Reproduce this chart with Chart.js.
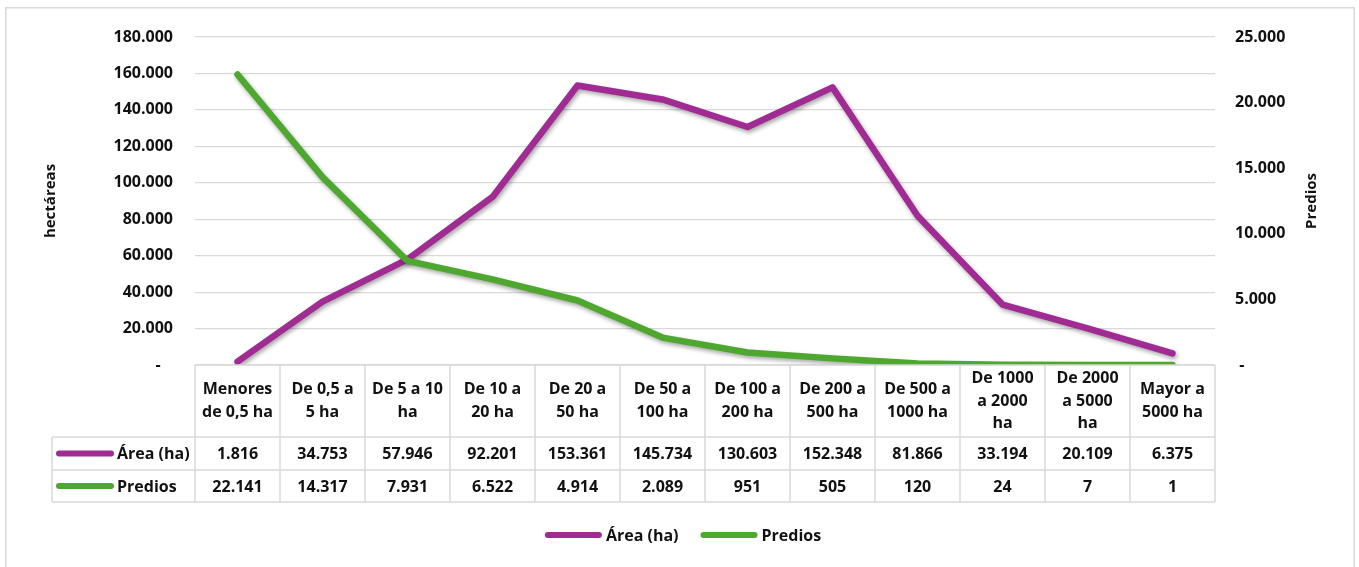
<!DOCTYPE html>
<html lang="es">
<head>
<meta charset="utf-8">
<title>Área y predios por rango de tamaño</title>
<script src="https://cdn.jsdelivr.net/npm/chart.js@4/dist/chart.umd.min.js"></script>
<style>
  html, body { margin: 0; padding: 0; background: #ffffff; }
  #wrap { position: relative; width: 1359px; height: 567px; }
  canvas { display: block; }
</style>
</head>
<body>
<div id="wrap"><canvas id="chart" width="1359" height="567"></canvas></div>
<script>
// Size ranges (each entry is the wrapped label, one string per line)
const categories = [
  ['Menores', 'de 0,5 ha'],
  ['De 0,5 a', '5 ha'],
  ['De 5 a 10', 'ha'],
  ['De 10 a', '20 ha'],
  ['De 20 a', '50 ha'],
  ['De 50 a', '100 ha'],
  ['De 100 a', '200 ha'],
  ['De 200 a', '500 ha'],
  ['De 500 a', '1000 ha'],
  ['De 1000', 'a 2000', 'ha'],
  ['De 2000', 'a 5000', 'ha'],
  ['Mayor a', '5000 ha']
];

// Total area in hectares per range
const areaHa = [1816, 34753, 57946, 92201, 153361, 145734, 130603, 152348, 81866, 33194, 20109, 6375];

// Number of properties per range
const predios = [22141, 14317, 7931, 6522, 4914, 2089, 951, 505, 120, 24, 7, 1];

// Axis tick values
const areaTicks = [0, 20000, 40000, 60000, 80000, 100000, 120000, 140000, 160000, 180000];
const prediosTicks = [0, 5000, 10000, 15000, 20000, 25000];

const seriesNames = ['Área (ha)', 'Predios'];
const seriesColors = ['#A02B93', '#4EA72E'];
const axisTitles = ['hectáreas', 'Predios'];

const FONT = '"Open Sans", "Noto Sans", sans-serif';
const TEXT = '#111111';
const GRID = '#d9d9d9';

// Thousands separator with a dot, zero shown as a dash
function fmt(n) {
  return String(n).replace(/\B(?=(\d{3})+(?!\d))/g, '.');
}
function tickFmt(v) {
  return v === 0 ? '-' : fmt(v);
}

// Soft shadow under the lines
const lineShadow = {
  id: 'lineShadow',
  beforeDatasetsDraw(chart) {
    const ctx = chart.ctx;
    ctx.save();
    ctx.shadowColor = 'rgba(0,0,0,0.35)';
    ctx.shadowBlur = 4;
    ctx.shadowOffsetX = 1.5;
    ctx.shadowOffsetY = 2.5;
  },
  afterDatasetsDraw(chart) {
    chart.ctx.restore();
  }
};

// Outer frame, right axis title, data table and legend
const tableAndLegend = {
  id: 'tableAndLegend',
  beforeDraw(chart) {
    const ctx = chart.ctx;
    ctx.save();
    ctx.strokeStyle = '#d9d9d9';
    ctx.lineWidth = 1.5;
    ctx.strokeRect(5.75, 7.75, 1348.5, 600);
    ctx.restore();
  },
  afterDraw(chart) {
    const ctx = chart.ctx;
    const xs = chart.scales.x;
    const area = chart.chartArea;
    const n = categories.length;
    const colW = (area.right - area.left) / n;

    const top = area.bottom;
    const rowA = top + 72;
    const rowB = rowA + 33;
    const rowEnd = rowB + 32;
    const leftEdge = 52;

    ctx.save();

    // Right axis title, reading bottom to top
    ctx.save();
    ctx.translate(1312, (area.top + area.bottom) / 2);
    ctx.rotate(-Math.PI / 2);
    ctx.font = 'bold 15px ' + FONT;
    ctx.fillStyle = TEXT;
    ctx.textAlign = 'center';
    ctx.textBaseline = 'middle';
    ctx.fillText(axisTitles[1], 0, 0);
    ctx.restore();

    // Table grid
    ctx.strokeStyle = GRID;
    ctx.lineWidth = 1.5;
    ctx.beginPath();
    ctx.moveTo(area.left, top); ctx.lineTo(area.right, top);
    ctx.moveTo(leftEdge, rowA); ctx.lineTo(area.right, rowA);
    ctx.moveTo(leftEdge, rowB); ctx.lineTo(area.right, rowB);
    ctx.moveTo(leftEdge, rowEnd); ctx.lineTo(area.right, rowEnd);
    ctx.moveTo(leftEdge, rowA); ctx.lineTo(leftEdge, rowEnd);
    for (let i = 0; i <= n; i++) {
      const x = area.left + i * colW;
      ctx.moveTo(x, top); ctx.lineTo(x, rowEnd);
    }
    ctx.stroke();

    // Header cells
    ctx.fillStyle = TEXT;
    ctx.font = 'bold 16px ' + FONT;
    ctx.textAlign = 'center';
    ctx.textBaseline = 'middle';
    const lh = 22.5;
    categories.forEach((lines, i) => {
      const cx = xs.getPixelForValue(i);
      const cy = (top + rowA) / 2;
      const y0 = cy - (lines.length - 1) * lh / 2;
      lines.forEach((t, k) => ctx.fillText(t, cx, y0 + k * lh));
    });

    // Value rows
    const rows = [areaHa, predios];
    const rowCenters = [(rowA + rowB) / 2, (rowB + rowEnd) / 2];
    rows.forEach((vals, r) => {
      vals.forEach((v, i) => {
        ctx.fillText(fmt(v), xs.getPixelForValue(i), rowCenters[r] + 1);
      });
      // Series key in the first column
      ctx.strokeStyle = seriesColors[r];
      ctx.lineWidth = 6;
      ctx.lineCap = 'round';
      ctx.beginPath();
      ctx.moveTo(59, rowCenters[r]);
      ctx.lineTo(111, rowCenters[r]);
      ctx.stroke();
      ctx.textAlign = 'left';
      ctx.fillText(seriesNames[r], 117, rowCenters[r] + 1);
      ctx.textAlign = 'center';
    });

    // Legend below the table
    const ly = 535;
    const keyW = 57, gapKey = 4, gapItem = 22;
    ctx.textAlign = 'left';
    const widths = seriesNames.map(s => ctx.measureText(s).width);
    const total = widths.reduce((a, w) => a + keyW + gapKey + w, 0) + gapItem;
    let x = 683 - total / 2;
    seriesNames.forEach((s, r) => {
      ctx.strokeStyle = seriesColors[r];
      ctx.lineWidth = 6;
      ctx.lineCap = 'round';
      ctx.beginPath();
      ctx.moveTo(x + 3, ly);
      ctx.lineTo(x + keyW - 3, ly);
      ctx.stroke();
      x += keyW + gapKey;
      ctx.fillStyle = TEXT;
      ctx.fillText(s, x, ly + 1);
      x += widths[r] + gapItem;
    });

    ctx.restore();
  }
};

new Chart(document.getElementById('chart'), {
  type: 'line',
  data: {
    labels: categories,
    datasets: [
      {
        label: seriesNames[0],
        data: areaHa,
        yAxisID: 'y',
        borderColor: seriesColors[0],
        backgroundColor: seriesColors[0],
        borderWidth: 6.5,
        borderCapStyle: 'round',
        borderJoinStyle: 'round',
        pointRadius: 0,
        tension: 0,
        order: 1
      },
      {
        label: seriesNames[1],
        data: predios,
        yAxisID: 'y1',
        borderColor: seriesColors[1],
        backgroundColor: seriesColors[1],
        borderWidth: 6.5,
        borderCapStyle: 'round',
        borderJoinStyle: 'round',
        pointRadius: 0,
        tension: 0,
        order: 0
      }
    ]
  },
  options: {
    responsive: false,
    animation: false,
    events: [],
    layout: { padding: { left: 6, right: 4, top: 37, bottom: 202 } },
    plugins: {
      legend: { display: false },
      tooltip: { enabled: false }
    },
    scales: {
      x: {
        type: 'category',
        offset: true,
        display: false
      },
      y: {
        position: 'left',
        min: 0,
        max: 180000,
        afterFit(scale) { scale.width = 189; },
        afterBuildTicks(scale) { scale.ticks = areaTicks.map(v => ({ value: v })); },
        border: { display: false },
        grid: { color: GRID, lineWidth: 1.2, drawTicks: false },
        ticks: {
          padding: 22,
          color: TEXT,
          font: { family: FONT, size: 16, weight: 'bold' },
          callback: v => v === 0 ? '-   ' : fmt(v)
        },
        title: {
          display: true,
          text: axisTitles[0],
          color: TEXT,
          font: { family: FONT, size: 15, weight: 'bold' },
          padding: { top: 36, bottom: 0 }
        }
      },
      y1: {
        position: 'right',
        min: 0,
        max: 25000,
        afterFit(scale) { scale.width = 140; },
        afterBuildTicks(scale) { scale.ticks = prediosTicks.map(v => ({ value: v })); },
        border: { display: false },
        grid: { display: false, drawTicks: false },
        ticks: {
          padding: 20,
          color: TEXT,
          font: { family: FONT, size: 16, weight: 'bold' },
          callback: v => v === 0 ? ' -' : fmt(v)
        }
      }
    }
  },
  plugins: [lineShadow, tableAndLegend]
});
</script>
</body>
</html>
